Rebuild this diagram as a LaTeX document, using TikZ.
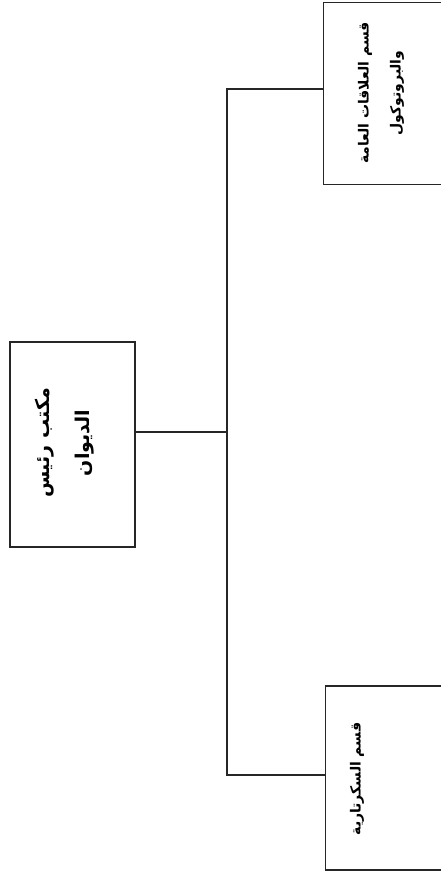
\documentclass[tikz,border=0pt]{standalone}
\usepackage{fontspec}
\newfontfamily\arabicfont[Script=Arabic]{DejaVu Sans}
\TeXXeTstate=1
\begin{document}
\begin{tikzpicture}[x=1pt,y=-1pt,
  box/.style={draw=black!85, line width=1.2pt, fill=white, inner sep=0pt},
  lbl/.style={rotate=90, align=center, inner sep=0pt, font=\arabicfont\bfseries\fontsize{14}{32}\selectfont},
  biglbl/.style={lbl, font=\arabicfont\bfseries\fontsize{19}{40}\selectfont},
  conn/.style={draw=black!85, line width=1.2pt}]
\useasboundingbox (0,0) rectangle (441,873);
% boxes
\node[box, minimum width=125pt, minimum height=205pt] (c) at (72.5,444.5) {};
\node[box, minimum width=127pt, minimum height=182pt, anchor=north west] (t) at (323,1.5) {};
\node[box, minimum width=127pt, minimum height=184pt, anchor=south west] (b) at (324.5,870.5) {};
% labels
\node[biglbl] (ct) at (65,443) {\beginR مكتب رئيس\endR\\\beginR الديوان\endR};
\node[lbl] (tt) at (381,93) {\beginR قسم العلاقات العامة\endR\\\beginR والبروتوكول\endR};
\node[lbl] (bt) at (357,779) {\beginR قسم السكرتارية\endR};
% connectors
\coordinate (j) at (227,432);
\coordinate (jt) at (227,89);
\coordinate (jb) at (227,775);
\draw[conn] (c.east |- j) -- (j);
\draw[conn] (jt -| t.west) -- (jt) -- (jb) -- (jb -| b.west);
\end{tikzpicture}
\end{document}
